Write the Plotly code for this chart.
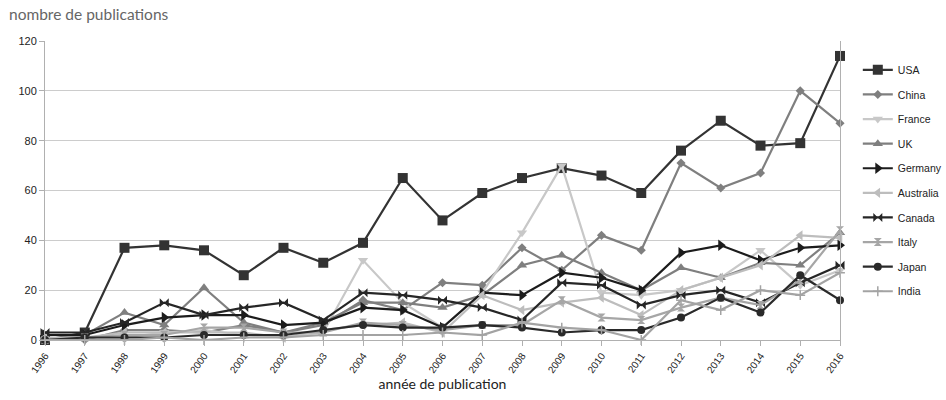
import plotly.graph_objects as go

years = list(range(1996, 2017))
year_labels = [str(y) for y in years]

usa = [0, 3, 37, 38, 36, 26, 37, 31, 39, 65, 48, 59, 65, 69, 66, 59, 76, 88, 78, 79, 114]
china = [1, 0, 4, 4, 3, 6, 3, 6, 16, 12, 23, 22, 37, 28, 42, 36, 71, 61, 67, 100, 87]
france = [0, 1, 1, 3, 4, 2, 1, 3, 32, 15, 5, 19, 43, 70, 19, 18, 20, 25, 36, 22, 28]
uk = [0, 2, 11, 6, 21, 7, 3, 7, 15, 15, 13, 18, 30, 34, 27, 20, 29, 25, 31, 30, 43]
germany = [2, 2, 6, 9, 10, 10, 6, 7, 13, 12, 5, 19, 18, 27, 25, 20, 35, 38, 32, 37, 38]
australia = [1, 1, 3, 3, 3, 3, 1, 4, 6, 7, 3, 18, 12, 15, 17, 10, 20, 25, 30, 42, 41]
canada = [3, 3, 7, 15, 10, 13, 15, 8, 19, 18, 16, 13, 8, 23, 22, 14, 18, 20, 15, 23, 30]
italy = [0, 1, 2, 2, 5, 5, 3, 3, 7, 6, 4, 6, 6, 16, 9, 8, 13, 17, 14, 24, 44]
japan = [0, 1, 1, 1, 2, 2, 2, 4, 6, 5, 5, 6, 5, 3, 4, 4, 9, 17, 11, 26, 16]
india = [0, 0, 0, 1, 0, 1, 1, 2, 2, 2, 3, 2, 7, 5, 4, 0, 16, 12, 20, 18, 27]

series = [
    ("USA", usa, "#333333", "square", 10),
    ("China", china, "#7f7f7f", "diamond", 7),
    ("France", france, "#c8c8c8", "triangle-down", 9),
    ("UK", uk, "#7f7f7f", "triangle-up", 9),
    ("Germany", germany, "#1c1c1c", "triangle-right", 10),
    ("Australia", australia, "#bdbdbd", "triangle-left", 9),
    ("Canada", canada, "#262626", "bowtie", 9),
    ("Italy", italy, "#a6a6a6", "hourglass", 8),
    ("Japan", japan, "#2a2a2a", "circle", 8),
    ("India", india, "#a3a3a3", "cross-thin", 7),
]

fig = go.Figure()
for name, vals, color, sym, size in series:
    fig.add_trace(go.Scatter(
        x=years, y=vals, name=name, mode="lines+markers",
        line=dict(color=color, width=2.2),
        marker=dict(symbol=sym, size=size, color=color,
                    line=dict(color=color, width=1.5 if sym == "cross-thin" else 0)),
        cliponaxis=False, legendgroup=name,
    ))

fig.update_layout(
    width=946, height=400,
    margin=dict(l=45, r=106, t=41, b=60, autoexpand=False),
    plot_bgcolor="white", paper_bgcolor="white",
    font=dict(family="Liberation Sans, Arial, sans-serif", size=11, color="#222222"),
    showlegend=True,
    legend=dict(x=1.0224, xanchor="left", y=0.952, yanchor="top",
                font=dict(size=10.5, color="#222222"), tracegroupgap=5.6,
                itemwidth=30, bgcolor="rgba(0,0,0,0)"),
    xaxis=dict(
        range=[1996, 2016], tickmode="array", tickvals=years, ticktext=year_labels,
        tickangle=-55, ticks="outside", ticklen=5, tickcolor="#b0b0b0",
        showgrid=False, showline=True, linecolor="#b0b0b0", linewidth=1,
        zeroline=False, tickfont=dict(size=10, color="#222222"), automargin=False,
        title=dict(text="année de publication", standoff=3,
                   font=dict(family="Lato, Open Sans, sans-serif", size=14, color="#222222")),
    ),
    yaxis=dict(
        range=[0, 120], tickvals=[0, 20, 40, 60, 80, 100, 120],
        ticks="outside", ticklen=5, tickcolor="#b0b0b0",
        showgrid=True, gridcolor="#cccccc", gridwidth=1, automargin=False,
        showline=True, linecolor="#b0b0b0", linewidth=1, mirror=True,
        zeroline=False, tickfont=dict(size=11, color="#222222"),
    ),
    annotations=[dict(
        text="nombre de publications", xref="paper", yref="paper",
        x=-38/795, y=1 + 27/299, xanchor="left", yanchor="middle", showarrow=False,
        font=dict(family="Lato, Open Sans, sans-serif", size=15.5, color="#666666"),
    )],
)

fig.write_html("out.html", config={"displayModeBar": False},
               post_script="document.body.style.margin='0';")
